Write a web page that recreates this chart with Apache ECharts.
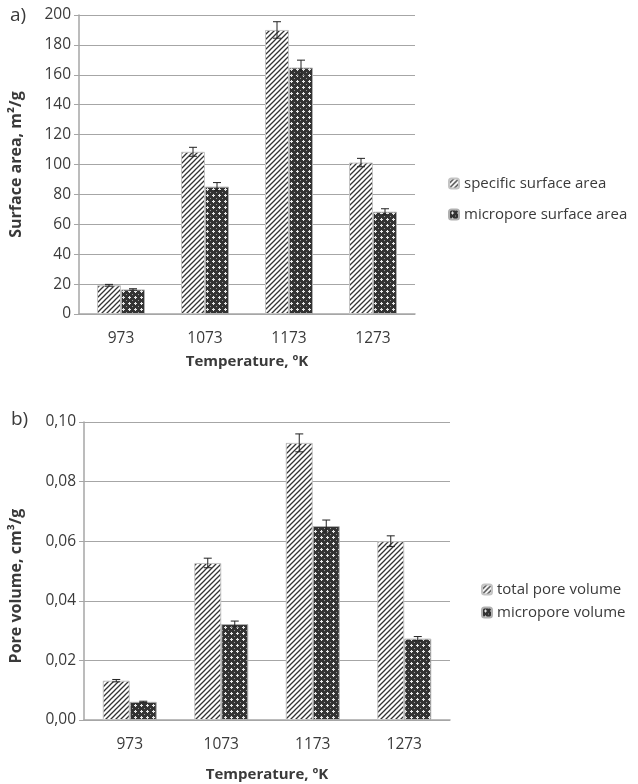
<!DOCTYPE html>
<html>
<head>
<meta charset="utf-8">
<script src="https://cdn.jsdelivr.net/npm/echarts@6/dist/echarts.min.js"></script>
<style>
  html, body { margin: 0; padding: 0; background: #fff; }
  #main { width: 638px; height: 784px; }
</style>
</head>
<body>
<div id="main"></div>
<script>
var categories = ['973', '1073', '1173', '1273'];

// a) surface area, m2/g
var specificArea = [19.2, 108.5, 190, 101.3];
var specificAreaErr = [0.6, 3, 5.5, 2.8];
var microArea = [16.4, 85.2, 164.8, 68.4];
var microAreaErr = [0.5, 2.7, 5, 2];

// b) pore volume, cm3/g
var totalVolume = [0.0132, 0.0527, 0.093, 0.060];
var totalVolumeErr = [0.0004, 0.0016, 0.003, 0.0018];
var microVolume = [0.0061, 0.0322, 0.0651, 0.0273];
var microVolumeErr = [0.0002, 0.001, 0.002, 0.0007];

var textColor = '#3a3a3a';
var lineColor = '#a6a6a6';
var font = 'Open Sans';

function hatchPattern() {
  var c = document.createElement('canvas');
  c.width = 5; c.height = 5;
  var ctx = c.getContext('2d');
  ctx.fillStyle = '#fff';
  ctx.fillRect(0, 0, 5, 5);
  ctx.strokeStyle = '#333';
  ctx.lineWidth = 1.3;
  ctx.beginPath();
  ctx.moveTo(-1, 6); ctx.lineTo(6, -1);
  ctx.moveTo(-1, 1); ctx.lineTo(1, -1);
  ctx.moveTo(4, 6); ctx.lineTo(6, 4);
  ctx.stroke();
  return c;
}

function checkPattern() {
  var c = document.createElement('canvas');
  c.width = 6; c.height = 6;
  var ctx = c.getContext('2d');
  ctx.fillStyle = '#333';
  ctx.fillRect(0, 0, 6, 6);
  ctx.fillStyle = '#e8e8e8';
  ctx.fillRect(2, 3, 3, 1);
  ctx.fillRect(3, 2, 1, 3);
  ctx.fillStyle = '#9a9a9a';
  ctx.fillRect(0, 0, 1, 1);
  return c;
}

var hatch = { image: hatchPattern(), repeat: 'repeat' };
var check = { image: checkPattern(), repeat: 'repeat' };

function errorSeries(values, errs, axisIdx, offset) {
  return {
    type: 'custom',
    xAxisIndex: axisIdx,
    yAxisIndex: axisIdx,
    z: 10,
    silent: true,
    data: values.map(function (v, i) { return [i, v, errs[i]]; }),
    encode: { x: 0, y: 1 },
    renderItem: function (params, api) {
      var i = api.value(0), v = api.value(1), e = api.value(2);
      var x = api.coord([i, 0])[0] + offset;
      var top = api.coord([i, v + e])[1];
      var bot = api.coord([i, v - e])[1];
      var st = { stroke: '#222', lineWidth: 1 };
      return {
        type: 'group',
        children: [
          { type: 'line', shape: { x1: x, y1: top, x2: x, y2: bot }, style: st },
          { type: 'line', shape: { x1: x - 4, y1: top, x2: x + 4, y2: top }, style: st },
          { type: 'line', shape: { x1: x - 4, y1: bot, x2: x + 4, y2: bot }, style: st }
        ]
      };
    }
  };
}

function xAxisCfg(idx, gap) {
  return {
    type: 'category',
    gridIndex: idx,
    data: categories,
    name: 'Temperature, ºK',
    nameLocation: 'middle',
    nameGap: gap,
    nameTextStyle: { fontFamily: font, fontSize: 15, fontWeight: 'bold', color: textColor },
    axisLine: { lineStyle: { color: lineColor, width: 1.5 } },
    axisTick: { show: false },
    axisLabel: { fontFamily: font, fontSize: 15.5, color: textColor, margin: 17 }
  };
}

function yAxisCfg(idx, name, max, interval, gap, pad, fmt) {
  return {
    type: 'value',
    gridIndex: idx,
    min: 0,
    max: max,
    interval: interval,
    name: name,
    nameLocation: 'middle',
    nameGap: gap,
    nameTextStyle: { fontFamily: font, fontSize: 16, fontWeight: 'bold', color: textColor, padding: pad },
    axisLine: { show: true, lineStyle: { color: lineColor, width: 1.5 } },
    axisTick: { show: true, length: 5, lineStyle: { color: lineColor } },
    splitLine: { lineStyle: { color: lineColor, width: 1 } },
    axisLabel: { fontFamily: font, fontSize: 15.5, color: textColor, margin: 8, formatter: fmt }
  };
}

var barStyleA = { color: hatch, borderColor: '#c4c4c4', borderWidth: 1 };
var barStyleB = { color: check, borderColor: '#b0b0b0', borderWidth: 1 };

var chart = echarts.init(document.getElementById('main'));
chart.setOption({
  backgroundColor: '#fff',
  animation: false,
  grid: [
    { left: 79, top: 15, width: 336, height: 299 },
    { left: 84, top: 422, width: 366, height: 298 }
  ],
  xAxis: [xAxisCfg(0, 40), xAxisCfg(1, 47)],
  yAxis: [
    yAxisCfg(0, 'Surface area, m²/g', 200, 20, 55, 0, function (v) { return v; }),
    yAxisCfg(1, 'Pore volume, cm³/g', 0.1, 0.02, 60, [0, 30, 0, 0], function (v) { return v.toFixed(2).replace('.', ','); })
  ],
  legend: [
    {
      orient: 'vertical', left: 443, top: 171,
      itemWidth: 10, itemHeight: 10, itemGap: 16,
      textStyle: { fontFamily: font, fontSize: 15, color: textColor },
      data: ['specific surface area', 'micropore surface area']
    },
    {
      orient: 'vertical', left: 476, top: 577,
      itemWidth: 10, itemHeight: 10, itemGap: 8,
      textStyle: { fontFamily: font, fontSize: 15, color: textColor },
      data: ['total pore volume', 'micropore volume']
    }
  ],
  graphic: [
    { type: 'text', left: 10, top: 6, style: { text: 'a)', fontFamily: font, fontSize: 19, fill: textColor } },
    { type: 'text', left: 11, top: 410, style: { text: 'b)', fontFamily: font, fontSize: 19, fill: textColor } }
  ],
  series: [
    { name: 'specific surface area', type: 'bar', xAxisIndex: 0, yAxisIndex: 0, barWidth: 24, barGap: '0%', itemStyle: barStyleA, data: specificArea },
    { name: 'micropore surface area', type: 'bar', xAxisIndex: 0, yAxisIndex: 0, barWidth: 24, barGap: '0%', itemStyle: barStyleB, data: microArea },
    { name: 'total pore volume', type: 'bar', xAxisIndex: 1, yAxisIndex: 1, barWidth: 27, barGap: '0%', itemStyle: barStyleA, data: totalVolume },
    { name: 'micropore volume', type: 'bar', xAxisIndex: 1, yAxisIndex: 1, barWidth: 27, barGap: '0%', itemStyle: barStyleB, data: microVolume },
    errorSeries(specificArea, specificAreaErr, 0, -12),
    errorSeries(microArea, microAreaErr, 0, 12),
    errorSeries(totalVolume, totalVolumeErr, 1, -13.5),
    errorSeries(microVolume, microVolumeErr, 1, 13.5)
  ]
});
</script>
</body>
</html>
